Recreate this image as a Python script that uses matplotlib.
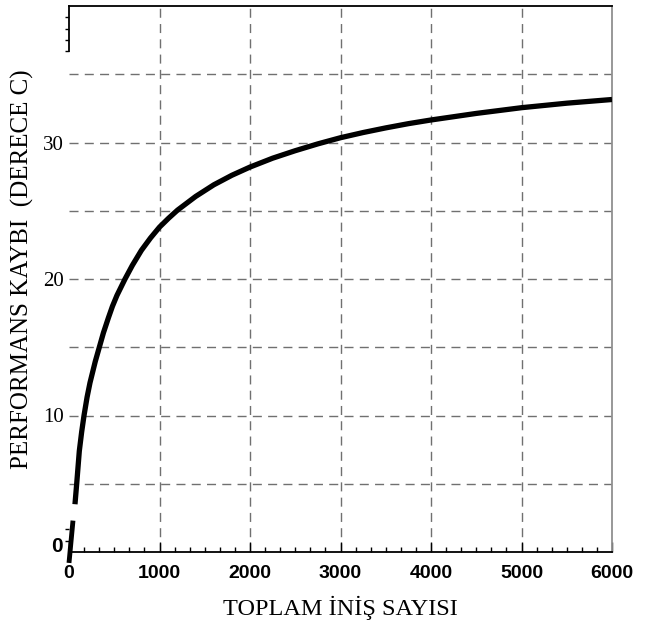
import matplotlib
matplotlib.use("Agg")
import matplotlib.pyplot as plt
from matplotlib.ticker import FixedLocator, MultipleLocator, FuncFormatter

# ---- data ----
landings = [66, 85, 114, 140, 166, 200, 232, 290, 335, 380, 435, 480, 530,
            619, 700, 800, 900, 1000, 1100, 1200, 1400, 1600, 1800, 2000,
            2250, 2500, 2750, 3000, 3250, 3500, 3750, 4000, 4500, 5000,
            5500, 6000]
loss = [3.5, 5.0, 7.4, 8.8, 10.0, 11.35, 12.4, 13.95, 15.0, 16.05, 17.15,
        18.0, 18.8, 20.0, 21.0, 22.1, 23.0, 23.8, 24.45, 25.05, 26.05,
        26.9, 27.6, 28.2, 28.85, 29.4, 29.9, 30.35, 30.73, 31.07, 31.38,
        31.65, 32.13, 32.55, 32.88, 33.15]
start_x = [0, 44]
start_y = [-0.8, 2.3]

x_ticks = [0, 1000, 2000, 3000, 4000, 5000, 6000]
y_labels = {10: "10", 20: "20", 30: "30"}
y_grid = [5, 10, 15, 20, 25, 30, 35]
y_minor_top = [36.67, 37.5, 38.33, 39.17]
y_minor_bottom = [0.83, 1.67]

xlabel = "TOPLAM İNİŞ SAYISI"
ylabel = "PERFORMANS KAYBI  (DERECE C)"

W, H = 646, 627
fig = plt.figure(figsize=(W / 100, H / 100), dpi=100)
ax = fig.add_axes([69 / W, 75 / H, (612 - 69) / W, (552 - 6) / H])
ax.set_xlim(0, 6000)
ax.set_ylim(0, 40)

grid_kw = dict(color="#707070", lw=1.0, dashes=(6.5, 4.5), zorder=1)
for yv in y_grid:
    ax.axhline(yv, **grid_kw)
for xv in x_ticks[1:-1]:
    ax.axvline(xv, **grid_kw)

ax.plot(landings, loss, color="black", lw=3.8, solid_capstyle="butt",
        solid_joinstyle="round", zorder=5)
ax.plot(start_x, start_y, color="black", lw=3.5, solid_capstyle="butt",
        zorder=5, clip_on=False)

# spines
ax.spines["top"].set_color("black")
ax.spines["top"].set_linewidth(1.3)
ax.spines["bottom"].set_color("black")
ax.spines["bottom"].set_linewidth(1.3)
ax.spines["right"].set_color("#909090")
ax.spines["right"].set_linewidth(1.3)
ax.spines["left"].set_bounds(y_minor_top[0], 40)
ax.spines["left"].set_linewidth(1.3)

sans_narrow = ["Liberation Sans Narrow", "Liberation Sans", "DejaVu Sans"]
serif = ["Liberation Serif", "DejaVu Serif"]

# x ticks
ax.xaxis.set_major_locator(FixedLocator(x_ticks))
ax.xaxis.set_minor_locator(MultipleLocator(1000 / 6))
ax.tick_params(axis="x", which="major", direction="in", length=7, width=1.0, pad=9)
ax.tick_params(axis="x", which="minor", direction="in", length=3.5, width=1.0)
for lab in ax.get_xticklabels():
    lab.set_family(sans_narrow)
    lab.set_fontweight("bold")
    lab.set_fontsize(14)

# y ticks
ax.yaxis.set_major_locator(FixedLocator(y_grid))
ax.yaxis.set_major_formatter(FuncFormatter(lambda v, p: y_labels.get(int(round(v)), "")))
ax.yaxis.set_minor_locator(FixedLocator(y_minor_top + y_minor_bottom))
ax.tick_params(axis="y", which="major", length=0, pad=4)
ax.tick_params(axis="y", which="minor", direction="out", length=3, width=1.0)
for lab in ax.get_yticklabels():
    lab.set_family(serif)
    lab.set_fontsize(15)

ax.text(-0.011, 0, "0", transform=ax.get_yaxis_transform(), ha="right",
        va="baseline", fontsize=15, fontweight="bold", family=sans_narrow)

fig.text(340 / W, 1 - 608 / H, xlabel, ha="center", va="center",
         fontsize=17.5, family=serif)
fig.text(22 / W, 1 - 269 / H, ylabel, ha="center", va="center", rotation=90,
         fontsize=18, family=serif)

fig.savefig("out.png", dpi=100)
